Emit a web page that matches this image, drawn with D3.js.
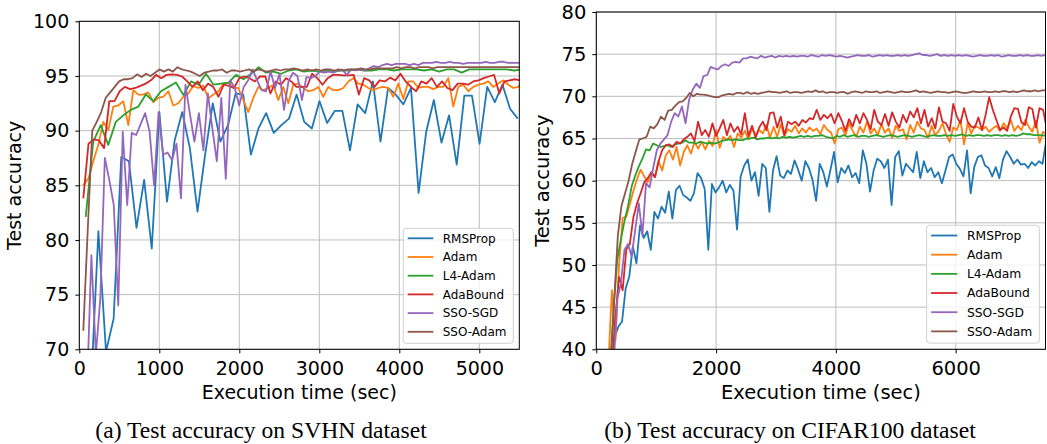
<!DOCTYPE html>
<html>
<head>
<meta charset="utf-8">
<script src="https://cdn.jsdelivr.net/npm/d3@7"></script>
<style>
  body { margin: 0; background: #fff; }
  svg text { font-family: "DejaVu Sans", sans-serif; fill: #000; }
  svg text.caption { font-family: "Liberation Serif", "Times New Roman", serif; }
</style>
</head>
<body>
<svg id="chart" width="1047" height="444"></svg>
<script>
(function(){
  // Data
  var seriesNames = ['RMSProp', 'Adam', 'L4-Adam', 'AdaBound', 'SSO-SGD', 'SSO-Adam'];
  var seriesColors = ['#1f77b4', '#ff7f0e', '#2ca02c', '#d62728', '#9467bd', '#8c564b'];
  var captions = ['(a) Test accuracy on SVHN dataset', '(b) Test accuracy on CIFAR100 dataset'];

  // SVHN: first sample time and seconds between samples, per series
  var svhnStart = [48, 50, 80, 50, 95, 50];
  var svhnStep = [95.3, 62.5, 94, 65, 56, 56];
  var svhnXTicks = [0, 1000, 2000, 3000, 4000, 5000];
  var svhnYTicks = [70, 75, 80, 85, 90, 95, 100];

  var svhnRmsprop = [62, 66, 80.8, 69.8, 72.8, 87.6, 87.2, 81.1, 85.5, 79.2, 91.7, 83.5, 89.1, 91.7, 88.4, 82.6,
    87.8, 92.5, 89.0, 90.5, 93.4, 93.3, 87.8, 90.2, 91.6, 89.8, 90.5, 91.1, 93.3, 90.8, 90.2, 92.7, 90.7, 91.8,
    91.8, 88.2, 92.4, 91.6, 94.5, 89.0, 93.9, 93.3, 92.4, 93.9, 84.3, 89.9, 92.8, 88.9, 91.4, 86.9, 93.2, 93.2,
    88.8, 94.0, 92.6, 94.2, 92.0, 91.1];
  var svhnAdam = [85.0, 85.6, 87.2, 88.7, 90.8, 90.05, 92.2, 92.3, 92.7, 90.5, 93.7, 93.3, 93.3, 93.5, 92.6, 93.0,
    93.1, 93.6, 92.3, 92.5, 93.1, 93.4, 94.1, 93.9, 94.1, 92.95, 93.3, 93.6, 94.3, 94.4, 93.9, 93.9, 92.8, 91.7,
    93.0, 94.0, 93.7, 93.9, 94.2, 92.8, 94.0, 92.5, 94.2,
    94.3, 93.9, 93.6, 93.7, 94.0, 93.1, 94.0, 93.7, 93.7, 93.9, 94.5, 94.8, 94.3, 94.2, 93.9, 93.7, 93.9, 94.0,
    93.9, 93.1, 94.3, 92.9, 94.5, 94.5, 93.9, 94.0, 94.0, 93.8, 94.0, 94.0, 94.8, 92.2, 94.0, 94.2, 93.6, 94.0,
    94.2, 94.3, 94.5, 94.0, 94.3, 94.6, 94.2, 93.9, 94.0, 94.6];
  var svhnL4Adam = [82.1, 89.0, 90.5, 88.7, 90.8, 91.4, 91.9, 92.2, 93.3, 92.7, 93.6, 94.0, 94.4, 93.25, 94.5, 94.2,
    95.2, 94.2, 94.3, 94.4, 95.1, 94.7, 95.2, 95.8, 95.3, 95.4, 95.2, 95.5, 95.6, 95.4, 95.5, 95.4, 95.5, 95.4,
    95.5, 95.5, 95.6, 95.5, 95.5, 95.6, 95.6, 95.5, 95.6, 95.6, 95.6, 95.5, 95.6, 95.4, 95.6, 95.6, 95.3, 95.6,
    95.6, 95.6, 95.6, 95.6, 95.6, 95.5, 95.6, 95.6];
  var svhnAdaBound = [83.8, 88.8, 89.2, 89.1, 88.4, 92.7, 92.7, 93.6, 94.0, 93.8, 93.9, 94.1, 94.3, 94.6, 95.1, 94.8,
    95.1, 95.15, 95.1, 94.95, 94.5, 94.0, 94.5, 93.7, 94.3, 94.0, 93.1, 94.2, 94.1, 93.9, 94.8, 94.95, 94.8, 94.5,
    94.95, 94.95, 93.4, 94.5, 94.2, 94.8, 94.5, 94.0, 94.0,
    94.0, 95.2, 94.8, 94.2, 94.8, 95.1, 95.1, 95.05, 95.05, 95.1, 93.3, 94.8, 94.6, 94.0, 94.6, 94.5, 94.85, 94.6,
    95.2, 94.5, 94.0, 93.6, 94.5, 94.3, 94.8, 94.0, 94.5, 93.9, 93.7, 94.3, 94.3, 94.2, 94.5, 94.6, 94.8, 94.95,
    95.1, 93.4, 94.5, 94.6, 94.7, 94.6];
  var svhnSsoSgd = [66, 78.6, 69.5, 74.7, 87.5, 85.5, 83.2, 74.0, 89.9, 83.2, 89.8, 89.6, 90.6, 91.6, 89.9, 85.0,
    91.7, 87.8, 88.0, 87.3, 88.8, 83.8, 94.2, 91.5, 89.0, 91.6, 88.2, 93.4, 90.2, 87.2, 93.0, 85.6, 94.6, 93.9,
    92.3, 94.0, 94.6, 95.6, 94.6, 93.7, 93.6, 95.4, 93.9, 95.2, 91.9, 94.5, 95.3, 95.0,
    92.8, 94.9, 94.8, 95.0, 95.4, 95.3, 95.4, 95.3, 95.5, 95.6, 95.1, 95.6, 95.5, 95.6, 95.5, 95.7, 95.9, 95.8,
    96.0, 96.1, 96.0, 96.1, 96.1, 96.1, 96.0, 96.1, 96.0, 96.2, 96.2, 96.2, 96.3, 96.2, 96.2, 96.3, 96.2, 96.2,
    96.1, 96.2, 96.2, 96.2, 96.2, 96.3, 96.2, 96.2, 96.3, 96.3, 96.2, 96.2, 96.2, 96.2];
  var svhnSsoAdam = [71.7, 81.0, 90.0, 90.8, 91.7, 93.0, 93.5, 94.0, 94.5, 94.7, 94.7, 94.8, 95.15, 94.9, 95.2, 95.0,
    95.3, 95.6, 95.4, 95.6, 95.4, 95.8, 95.6, 95.5, 95.4, 95.2, 95.0, 95.3, 95.4, 95.5, 95.5, 95.6, 95.3, 95.5,
    95.5, 95.4, 95.5, 95.6, 95.4, 95.6, 95.5, 95.4, 95.5, 95.6, 95.5, 95.6, 95.6, 95.7, 95.6, 95.5, 95.6, 95.5,
    95.6, 95.5, 95.6, 95.6, 95.5, 95.6, 95.5, 95.6, 95.6, 95.6, 95.7, 95.6, 95.6, 95.7, 95.7, 95.7, 95.7, 95.7,
    95.8, 95.7, 95.8, 95.8, 95.7, 95.8, 95.8, 95.8, 95.7, 95.8, 95.8, 95.8, 95.8, 95.8, 95.8, 95.8, 95.8, 95.8,
    95.8, 95.8, 95.8, 95.8, 95.8, 95.8, 95.8, 95.8, 95.8, 95.8, 95.8];

  // CIFAR100: one sample every 60 s
  var cifarStart = [250, 200, 230, 260, 290, 240];
  var cifarStep = [60, 60, 60, 60, 60, 60];
  var cifarXTicks = [0, 2000, 4000, 6000];
  var cifarYTicks = [40, 45, 50, 55, 60, 65, 70, 75, 80];

  var cifarRmsprop = [38, 41.5, 42.7, 43.3, 47.2, 48.6, 52.2, 50.2, 54.7, 53.2, 54.0, 51.8, 56.3, 55.5, 56.9, 56.2,
    58.7, 55.5, 58.9, 59.4, 58.3, 58.0, 57.6, 58.5, 60.9, 60.3, 59.0, 51.8, 59.6, 58.6, 59.2, 60.0, 58.6, 59.5,
    58.8, 54.2, 60.5, 61.8, 62.5, 60.0, 61.0, 58.2, 62.0, 61.5, 56.3, 61.2, 62.9, 60.6, 60.3, 61.2, 60.8, 62.4,
    61.3, 60.0, 62.3, 61.5, 60.1, 57.6, 62.0, 61.0, 59.3, 61.3, 63.4, 59.8, 61.5, 60.9, 61.8, 60.4, 60.9, 59.7,
    63.6, 62.0, 58.7, 61.2, 62.6, 62.3, 61.5, 62.5, 57.1, 62.8, 63.5, 60.6, 62.0, 61.5, 61.0, 63.4, 60.3, 62.3,
    61.0, 61.5, 60.4, 61.0, 59.7, 61.2, 62.8, 63.1, 62.0, 61.4, 60.5, 63.6, 58.5, 61.6, 62.8, 63.0, 61.8, 61.5,
    60.5, 61.6, 60.3, 62.5, 63.5, 62.8, 62.0, 62.5, 61.9, 62.0, 61.5, 62.2, 61.8, 62.3, 62.0, 64.6];
  var cifarAdam = [38, 47.0, 41, 50, 55.6, 55.7, 57.2, 58.8, 60.2, 61.3, 60.5, 59.8, 61.0, 60.5, 62.3, 61.2, 63.0,
    63.6, 62.5, 64.0, 61.8, 63.4, 64.2, 63.2, 64.6, 63.8, 64.6, 63.7, 64.7, 64.1, 66.0, 63.9, 65.2, 64.8, 65.3,
    64.0, 65.6, 65.1, 65.9, 64.9, 66.2, 65.4, 66.0, 65.6, 66.6, 65.1, 66.4, 65.2, 66.7, 65.3, 66.1, 65.8, 66.5,
    65.6, 66.2, 65.7, 66.3, 65.9, 66.2, 65.5, 66.6, 66.0, 65.7, 64.4, 66.1, 66.3, 65.4, 66.8, 65.9, 65.2, 66.4,
    65.7, 67.0, 65.6, 66.2, 65.4, 66.7, 65.7, 66.2, 65.1, 66.5, 65.9, 66.1, 64.9, 66.6, 65.7, 67.0, 66.2, 66.0,
    65.1, 66.5, 65.4, 65.9, 66.8, 65.5, 64.6, 66.3, 66.0, 67.2, 64.3, 66.8, 65.6, 66.5, 66.3, 66.0, 66.4, 65.8,
    66.2, 66.5, 65.9, 66.8, 66.2, 67.2, 65.9, 66.5, 66.0, 67.2, 66.4, 65.8, 67.1, 64.5, 65.8, 65.4];
  var cifarL4Adam = [38, 45, 50.6, 53.0, 55.2, 57.0, 59.3, 60.6, 61.7, 62.6, 63.7, 63.6, 64.4, 64.2, 64.0, 64.1,
    64.2, 64.0, 64.3, 64.4, 64.5, 64.8, 64.5, 64.5, 64.4, 64.6, 64.5, 64.4, 64.5, 64.4, 64.5, 64.7, 64.8, 64.9,
    64.8, 64.9, 64.8, 64.8, 65.0, 65.0, 65.1, 64.9, 65.0, 65.0, 65.1, 65.0, 65.1, 65.0, 65.2, 65.1, 65.2, 65.1,
    65.2, 65.3, 65.2, 65.3, 65.2, 65.3, 65.3, 65.4, 65.2, 65.1, 65.0, 65.3, 65.2, 65.4, 65.2, 65.3, 65.4, 65.2,
    65.3, 65.3, 65.2, 65.3, 65.4, 65.3, 65.2, 65.3, 65.4, 65.3, 65.2, 65.3, 65.4, 65.3, 65.2, 65.3, 65.4, 65.3,
    65.2, 65.3, 65.4, 65.3, 65.3, 65.4, 65.3, 65.4, 65.3, 65.4, 65.5, 65.3, 65.4, 65.3, 65.4, 65.4, 65.3, 65.4,
    65.3, 65.4, 65.4, 65.3, 65.4, 65.3, 65.4, 65.3, 65.4, 65.6, 65.5, 65.5, 65.4, 65.4, 65.4, 65.3];
  var cifarAdaBound = [38, 44, 48.6, 47.0, 51.8, 52.5, 55.7, 57.3, 58.5, 59.8, 60.3, 61.0, 60.4, 62.3, 63.6, 64.2,
    64.3, 64.0, 64.6, 64.4, 64.9, 65.2, 65.6, 64.7, 67.0, 65.4, 66.0, 65.2, 66.8, 65.3, 66.2, 67.2, 65.4, 66.8,
    65.8, 66.4, 65.5, 68.0, 65.3, 66.5, 65.1, 66.3, 67.0, 66.0, 68.0, 68.1, 66.3, 67.6, 65.4, 67.0, 66.7, 67.0,
    66.5, 67.2, 66.9, 67.4, 67.3, 68.4, 67.2, 67.8, 67.4, 67.9, 66.8, 68.0, 67.1, 65.9, 67.3, 66.4, 67.8, 66.8,
    68.0, 67.2, 66.1, 68.4, 67.0, 66.6, 67.9, 66.5, 68.1, 67.0, 66.3, 67.8, 66.9, 68.2, 67.5, 68.6, 66.8, 68.4,
    66.4, 67.4, 66.2, 68.7, 67.0, 66.8, 65.9, 69.1, 67.6, 66.8, 68.6, 67.0, 66.4, 66.3, 67.5, 66.0, 67.8, 69.9,
    68.4, 67.2, 66.0, 66.3, 65.9, 67.6, 68.6, 68.5, 66.9, 66.6, 68.7, 68.5, 66.3, 68.6, 68.4, 66.2];
  var cifarSsoSgd = [38, 46.0, 47.8, 51.8, 52.5, 51.0, 54.2, 57.3, 53.5, 59.7, 59.2, 61.5, 63.6, 64.4, 64.9, 65.4,
    67.0, 68.0, 67.6, 68.8, 66.8, 69.6, 70.8, 71.5, 71.0, 72.4, 72.5, 73.5, 73.3, 73.2, 73.6, 73.8, 73.6, 74.0,
    74.1, 74.0, 74.5, 74.5, 74.7, 74.6, 74.5, 74.8, 74.6, 74.7, 74.8, 74.6, 74.8, 74.7, 74.8, 74.7, 74.8, 74.7,
    74.8, 74.8, 74.7, 74.9, 74.8, 74.7, 74.9, 74.8, 74.9, 74.8, 74.7, 74.8, 74.7, 74.6, 74.7, 74.8, 74.9, 74.8,
    74.8, 74.9, 74.7, 74.8, 74.9, 74.8, 74.9, 74.8, 74.8, 74.9, 74.8, 74.9, 74.8, 74.9, 75.0, 75.1, 74.9, 74.9,
    74.8, 74.9, 75.0, 74.8, 74.9, 74.8, 74.9, 74.8, 74.9, 74.8, 74.9, 74.8, 74.7, 74.8, 74.9, 74.8, 74.8, 74.9,
    74.8, 74.9, 74.7, 74.8, 74.9, 74.8, 74.8, 74.9, 74.8, 74.9, 74.8, 74.8, 74.9, 74.8, 74.9];
  var cifarSsoAdam = [38, 46, 53.5, 57.0, 58.5, 60.0, 62.0, 63.5, 64.9, 65.0, 65.2, 66.4, 66.2, 66.7, 67.6, 67.2,
    68.3, 68.4, 68.9, 69.3, 69.4, 69.8, 70.4, 70.0, 70.3, 70.2, 70.2, 70.1, 70.0, 69.9, 69.9, 70.1, 70.2, 70.3,
    70.2, 70.4, 70.4, 70.3, 70.5, 70.3, 70.4, 70.3, 70.4, 70.5, 70.6, 70.5, 70.5, 70.4, 70.5, 70.6, 70.4, 70.5,
    70.5, 70.4, 70.5, 70.6, 70.5, 70.7, 70.5, 70.6, 70.4, 70.5, 70.5, 70.4, 70.5, 70.5, 70.3, 70.5, 70.6, 70.5,
    70.4, 70.6, 70.5, 70.5, 70.6, 70.4, 70.5, 70.6, 70.5, 70.4, 70.5, 70.6, 70.5, 70.5, 70.6, 70.7, 70.5, 70.6,
    70.5, 70.4, 70.5, 70.6, 70.5, 70.5, 70.4, 70.5, 70.6, 70.5, 70.4, 70.4, 70.5, 70.6, 70.5, 70.5, 70.6, 70.5,
    70.5, 70.6, 70.5, 70.6, 70.6, 70.5, 70.6, 70.5, 70.6, 70.7, 70.6, 70.6, 70.7, 70.6, 70.7, 70.7];

  var panels = [
    {
      id: 'svhn', left: 79.3, top: 21.3, right: 519.3, bottom: 349.3, s: 1,
      xDomain: [0, 5500], yDomain: [70, 100], xTicks: svhnXTicks, yTicks: svhnYTicks,
      series: [svhnRmsprop, svhnAdam, svhnL4Adam, svhnAdaBound, svhnSsoSgd, svhnSsoAdam],
      starts: svhnStart, steps: svhnStep,
      caption: captions[0], captionX: 261, yLabelX: 21
    },
    {
      id: 'cifar', left: 596.3, top: 12, right: 1045.5, bottom: 349.3, s: 1.025,
      xDomain: [0, 7500], yDomain: [40, 80], xTicks: cifarXTicks, yTicks: cifarYTicks,
      series: [cifarRmsprop, cifarAdam, cifarL4Adam, cifarAdaBound, cifarSsoSgd, cifarSsoAdam],
      starts: cifarStart, steps: cifarStep,
      caption: captions[1], captionX: 790, yLabelX: 549
    }
  ];

  var svg = d3.select('#chart');

  function drawPanel(p) {
    var x = d3.scaleLinear().domain(p.xDomain).range([p.left, p.right]);
    var y = d3.scaleLinear().domain(p.yDomain).range([p.bottom, p.top]);
    var g = svg.append('g').attr('class', 'panel ' + p.id);
    var fs = 19 * p.s;

    // grid
    var grid = g.append('g').attr('class', 'grid');
    grid.selectAll('line.gx')
      .data(p.xTicks)
      .enter()
      .append('line')
      .attr('x1', function(d) { return x(d); })
      .attr('x2', function(d) { return x(d); })
      .attr('y1', p.top)
      .attr('y2', p.bottom)
      .attr('stroke', '#bdbdbd')
      .attr('stroke-width', 1);
    grid.selectAll('line.gy')
      .data(p.yTicks)
      .enter()
      .append('line')
      .attr('x1', p.left)
      .attr('x2', p.right)
      .attr('y1', function(d) { return y(d); })
      .attr('y2', function(d) { return y(d); })
      .attr('stroke', '#bdbdbd')
      .attr('stroke-width', 1);

    // lines, clipped to the axes box
    svg.append('clipPath')
      .attr('id', p.id + '-clip')
      .append('rect')
      .attr('x', p.left)
      .attr('y', p.top)
      .attr('width', p.right - p.left)
      .attr('height', p.bottom - p.top);

    var lines = g.append('g').attr('clip-path', 'url(#' + p.id + '-clip)');
    p.series.forEach(function(vals, k) {
      var line = d3.line()
        .x(function(d, i) { return x(p.starts[k] + i * p.steps[k]); })
        .y(function(d) { return y(d); });
      lines.append('path')
        .datum(vals)
        .attr('d', line)
        .attr('fill', 'none')
        .attr('stroke', seriesColors[k])
        .attr('stroke-width', 1.8)
        .attr('stroke-linejoin', 'round');
    });

    // axes
    var xAxis = g.append('g')
      .attr('transform', 'translate(0,' + p.bottom + ')')
      .call(d3.axisBottom(x).tickValues(p.xTicks).tickFormat(d3.format('d')).tickSize(4).tickSizeOuter(0).tickPadding(8));
    var yAxis = g.append('g')
      .attr('transform', 'translate(' + p.left + ',0)')
      .call(d3.axisLeft(y).tickValues(p.yTicks).tickFormat(d3.format('d')).tickSize(4).tickSizeOuter(0).tickPadding(6));
    [xAxis, yAxis].forEach(function(a) {
      a.selectAll('text').attr('font-size', fs).attr('font-family', '"DejaVu Sans", sans-serif').attr('fill', '#000');
      a.selectAll('line').attr('stroke', '#000');
      a.select('.domain').remove();
    });

    // frame
    g.append('rect')
      .attr('x', p.left)
      .attr('y', p.top)
      .attr('width', p.right - p.left)
      .attr('height', p.bottom - p.top)
      .attr('fill', 'none')
      .attr('stroke', '#000')
      .attr('stroke-width', 1);

    // axis titles
    g.append('text')
      .attr('x', (p.left + p.right) / 2)
      .attr('y', 399)
      .attr('text-anchor', 'middle')
      .attr('font-size', fs)
      .text('Execution time (sec)');
    g.append('text')
      .attr('transform', 'translate(' + p.yLabelX + ',' + ((p.top + p.bottom) / 2) + ') rotate(-90)')
      .attr('text-anchor', 'middle')
      .attr('font-size', fs)
      .text('Test accuracy');

    // legend
    var lw = 110 * p.s, lh = 115 * p.s, m = 6 * p.s;
    var lx = p.right - m - lw, ly = p.bottom - m - lh;
    var legend = g.append('g').attr('class', 'legend');
    legend.append('rect')
      .attr('x', lx)
      .attr('y', ly)
      .attr('width', lw)
      .attr('height', lh)
      .attr('rx', 3)
      .attr('fill', '#fff')
      .attr('fill-opacity', 0.8)
      .attr('stroke', '#d0d0d0');
    var rows = legend.selectAll('g.row')
      .data(seriesNames)
      .enter()
      .append('g')
      .attr('class', 'row')
      .attr('transform', function(d, i) { return 'translate(' + lx + ',' + (ly + (10 + i * 18.7) * p.s) + ')'; });
    rows.append('line')
      .attr('x1', 4.4 * p.s)
      .attr('x2', 30 * p.s)
      .attr('stroke', function(d, i) { return seriesColors[i]; })
      .attr('stroke-width', 1.8);
    rows.append('text')
      .attr('x', 39.4 * p.s)
      .attr('dy', '0.36em')
      .attr('font-size', 12 * p.s)
      .text(function(d) { return d; });

    // caption
    svg.append('text')
      .attr('class', 'caption')
      .attr('x', p.captionX)
      .attr('y', 438)
      .attr('text-anchor', 'middle')
      .attr('font-size', 23.6)
      .text(p.caption);
  }

  panels.forEach(drawPanel);
})();
</script>
</body>
</html>
